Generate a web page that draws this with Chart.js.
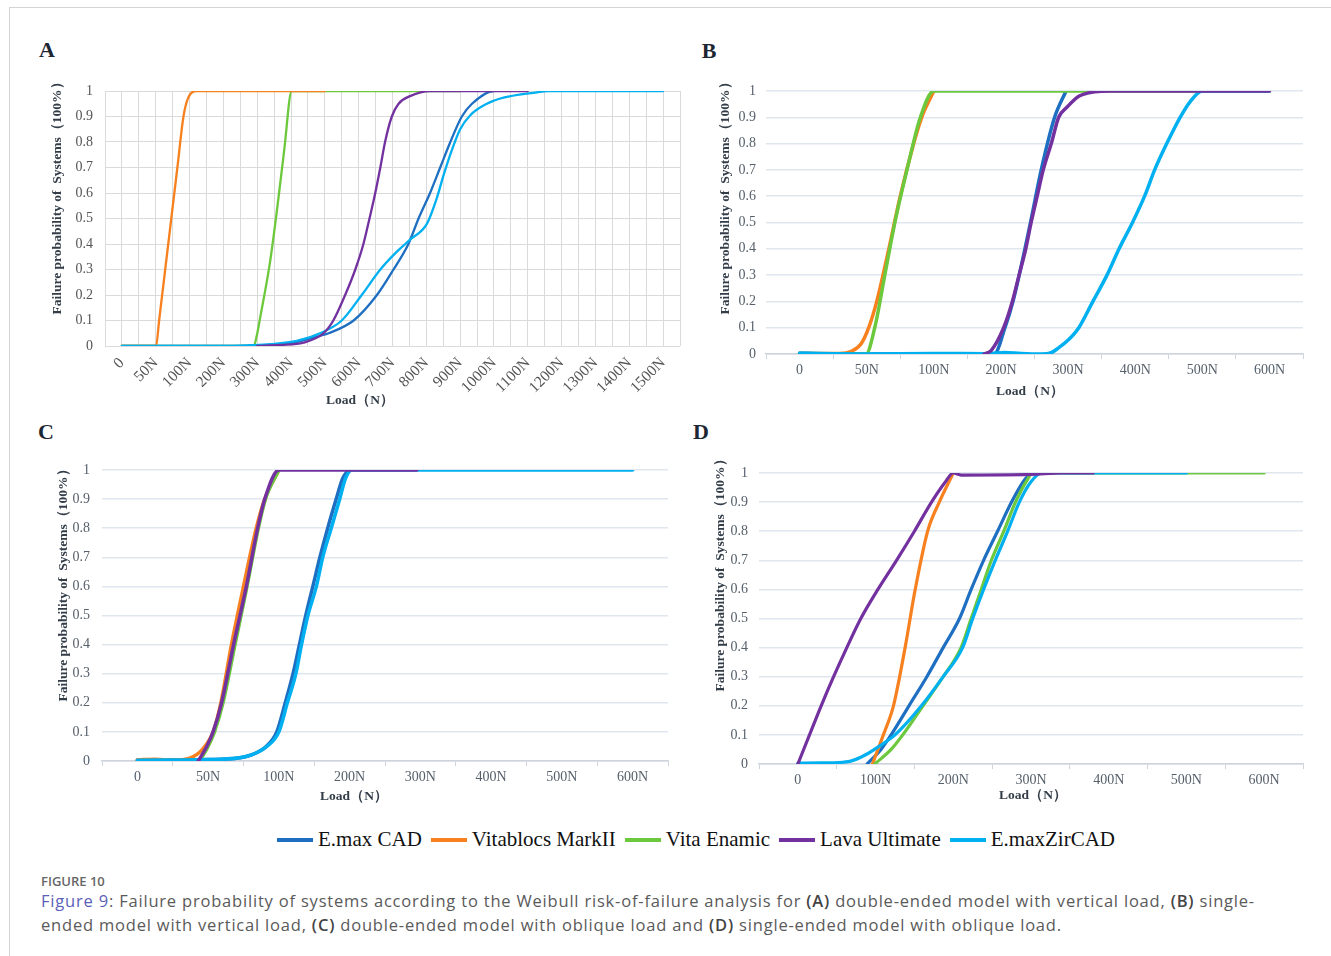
<!DOCTYPE html>
<html>
<head>
<meta charset="utf-8">
<script src="https://cdn.jsdelivr.net/npm/chart.js@4.4.0/dist/chart.umd.min.js"></script>
<style>
  body { margin: 0; background: #fff; width: 1331px; height: 956px; position: relative; overflow: hidden;
         font-family: "Liberation Serif", "Times New Roman", serif; }
  .frame { position: absolute; left: 9px; top: 7px; right: -2px; bottom: -2px;
           border-top: 1px solid #d4d4d4; border-left: 1px solid #d4d4d4; }
  canvas { position: absolute; }
  .letter { position: absolute; font-weight: bold; font-size: 22px; line-height: 1;
            transform: translate(-50%, -50%); color: #1d2733; }
  .xt, .yt { position: absolute; font-weight: bold; font-size: 13.5px; line-height: 1; white-space: nowrap; color: #333d48; }
  .xt { transform: translate(-50%, -50%); }
  .yt { transform: translate(-50%, -50%) rotate(-90deg); }
  .legend { position: absolute; left: 277px; top: 827px; display: flex; align-items: center;
            font-size: 21px; color: #111; white-space: nowrap; }
  .legend .sw { display: inline-block; width: 36px; height: 4px; margin-right: 5px; }
  .legend .it { margin-right: 9px; }
  .cap { position: absolute; left: 41px; font-family: "Open Sans", Lato, sans-serif; color: #5a5a5a; white-space: nowrap; }
  .fig { top: 872px; font-size: 13px; font-weight: 600; color: #666; }
  .txt { top: 889px; font-size: 16.5px; line-height: 24px; }
  .txt a { color: #5a5fb8; text-decoration: none; }
  .txt b { color: #444; font-weight: 600; }
</style>
</head>
<body>
<div class="frame"></div>

<div class="letter" style="left:47px;top:50px">A</div>
<div class="letter" style="left:709px;top:51px">B</div>
<div class="letter" style="left:46px;top:432px">C</div>
<div class="letter" style="left:701px;top:432px">D</div>

<canvas id="chartA" width="660" height="350" style="left:30px;top:70px"></canvas>
<canvas id="chartB" width="620" height="320" style="left:700px;top:70px"></canvas>
<canvas id="chartC" width="650" height="340" style="left:30px;top:450px"></canvas>
<canvas id="chartD" width="630" height="340" style="left:690px;top:450px"></canvas>

<div class="yt" style="left:57px;top:195px">Failure probability of &nbsp;Systems（100%）</div>
<div class="yt" style="left:725px;top:195px">Failure probability of &nbsp;Systems（100%）</div>
<div class="yt" style="left:63px;top:582px">Failure probability of &nbsp;Systems（100%）</div>
<div class="yt" style="left:720px;top:572px">Failure probability of &nbsp;Systems（100%）</div>

<div class="xt" style="left:360px;top:400px">Load（N）</div>
<div class="xt" style="left:1030px;top:391px">Load（N）</div>
<div class="xt" style="left:354px;top:796px">Load（N）</div>
<div class="xt" style="left:1033px;top:795px">Load（N）</div>

<div class="legend" id="legend"></div>

<div class="cap fig">FIGURE 10</div>
<div class="cap txt"><span id="line1"><a>Figure 9</a>: Failure probability of systems according to the Weibull risk-of-failure analysis for <b>(A)</b> double-ended model with vertical load, <b>(B)</b> single-</span><br><span id="line2">ended model with vertical load, <b>(C)</b> double-ended model with oblique load and <b>(D)</b> single-ended model with oblique load.</span></div>

<script>
// Series names and colours (same for all four panels)
const seriesNames = ['E.max CAD', 'Vitablocs MarkII', 'Vita Enamic', 'Lava Ultimate', 'E.maxZirCAD'];
const seriesColors = ['#1e6fc1', '#f7801f', '#6cc83c', '#7331a0', '#00b0f0'];

// Category labels of the load axis
const loadsA = ['0', '50N', '100N', '200N', '300N', '400N', '500N', '600N', '700N', '800N',
                '900N', '1000N', '1100N', '1200N', '1300N', '1400N', '1500N'];
const loadsB = ['0', '50N', '100N', '200N', '300N', '400N', '500N', '600N'];
const loadsC = ['0', '50N', '100N', '200N', '300N', '400N', '500N', '600N'];
const loadsD = ['0', '100N', '200N', '300N', '400N', '500N', '600N'];

// Curves: [category position, failure probability]
// A - double-ended model, vertical load
const aEmax = [[0,0],[3,0],[4,0.002],[4.97,0.01],[5.57,0.03],[6.11,0.05],[6.85,0.1],[7.54,0.2],[8.03,0.3],[8.47,0.4],[8.77,0.5],[9.11,0.6],[9.41,0.7],[9.71,0.8],[10.05,0.9],[10.35,0.95],[10.99,1],[11,1]];
const aVitablocs = [[0,0],[1.01,0],[1.1,0.1],[1.28,0.3],[1.46,0.5],[1.64,0.7],[1.82,0.9],[1.95,0.97],[2.18,1],[6,1]];
const aEnamic = [[0,0],[3.9,0],[3.97,0.03],[4.1,0.12],[4.38,0.33],[4.6,0.55],[4.8,0.77],[5.02,1],[10,1]];
const aLava = [[4,0],[4.7,0.004],[5.37,0.013],[5.96,0.05],[6.25,0.1],[6.6,0.2],[6.9,0.3],[7.14,0.4],[7.32,0.5],[7.49,0.6],[7.64,0.7],[7.78,0.8],[7.98,0.9],[8.18,0.95],[8.52,0.98],[9.11,1],[12,1]];
const aZircad = [[0,0],[3,0],[3.8,0.003],[4.38,0.007],[5.17,0.02],[5.86,0.05],[6.5,0.1],[7.09,0.2],[7.64,0.3],[8.13,0.37],[8.52,0.417],[9.02,0.48],[9.31,0.58],[9.51,0.67],[9.76,0.77],[10,0.85],[10.3,0.905],[10.79,0.95],[11.28,0.974],[12.27,0.995],[12.6,1],[16,1]];

// B - single-ended model, vertical load
const bEmax = [[0,0],[2.9,0],[3.06,0.1],[3.18,0.2],[3.44,0.5],[3.6,0.7],[3.8,0.9],[3.97,1]];
const bVitablocs = [[0,0.003],[0.3,0.002],[0.6,0.002],[0.77,0.01],[0.92,0.04],[1.03,0.1],[1.15,0.2],[1.33,0.4],[1.5,0.6],[1.7,0.8],[1.82,0.9],[2,1]];
const bEnamic = [[0,0],[0.99,0],[1.12,0.1],[1.27,0.3],[1.42,0.5],[1.6,0.7],[1.8,0.9],[2,1],[7,1]];
const bLava = [[2.75,0],[2.86,0.015],[3.04,0.1],[3.17,0.2],[3.27,0.3],[3.37,0.4],[3.45,0.5],[3.54,0.6],[3.63,0.7],[3.75,0.8],[3.86,0.9],[3.99,0.94],[4.16,0.98],[4.4,0.997],[4.64,1],[7,1]];
const bZircad = [[0,0.004],[0.2,0.003],[0.5,0.001],[1,0],[2,0.002],[2.8,0.001],[3.05,0.006],[3.3,0.002],[3.6,0],[3.75,0.005],[3.84,0.02],[3.99,0.05],[4.16,0.1],[4.37,0.2],[4.58,0.3],[4.76,0.4],[4.96,0.5],[5.14,0.6],[5.29,0.7],[5.47,0.8],[5.67,0.9],[5.82,0.96],[6,1],[7,1]];

// C - double-ended model, oblique load
const cEmax = [[0,0.003],[1,0.005],[1.42,0.01],[1.6,0.02],[1.82,0.05],[1.97,0.1],[2.09,0.2],[2.2,0.3],[2.29,0.4],[2.38,0.5],[2.48,0.6],[2.58,0.7],[2.69,0.8],[2.81,0.9],[2.9,0.97],[2.98,1]];
const cVitablocs = [[0,0.004],[0.25,0.006],[0.5,0.003],[0.74,0.01],[0.92,0.04],[1.07,0.1],[1.18,0.2],[1.33,0.4],[1.5,0.6],[1.68,0.8],[1.8,0.9],[2,1]];
const cEnamic = [[0.88,0],[1,0.05],[1.09,0.1],[1.21,0.2],[1.38,0.4],[1.55,0.6],[1.71,0.8],[1.81,0.9],[2,1]];
const cLava = [[0.86,0],[0.98,0.05],[1.07,0.1],[1.19,0.2],[1.36,0.4],[1.54,0.6],[1.7,0.8],[1.8,0.9],[2,1],[3.95,1]];
const cZircad = [[0,0.003],[1,0.005],[1.42,0.01],[1.6,0.02],[1.83,0.05],[2,0.1],[2.12,0.2],[2.24,0.3],[2.32,0.4],[2.41,0.5],[2.53,0.6],[2.62,0.7],[2.74,0.8],[2.86,0.9],[2.94,0.97],[3.03,1],[7,1]];

// D - single-ended model, oblique load
const dEmax = [[0.89,0],[1.07,0.05],[1.2,0.1],[1.43,0.2],[1.66,0.3],[1.87,0.4],[2.08,0.5],[2.23,0.6],[2.39,0.7],[2.57,0.8],[2.75,0.9],[2.9,0.97],[3,1]];
const dVitablocs = [[0.96,0],[1.1,0.1],[1.23,0.2],[1.38,0.4],[1.51,0.6],[1.67,0.8],[1.82,0.9],[2,1]];
const dEnamic = [[0.99,0],[1.2,0.05],[1.35,0.1],[1.61,0.2],[1.87,0.3],[2.1,0.4],[2.23,0.5],[2.36,0.6],[2.49,0.7],[2.65,0.8],[2.8,0.9],[2.96,0.98],[3.02,1],[6,1]];
const dLava = [[0,0],[0.15,0.1],[0.3,0.2],[0.46,0.3],[0.63,0.4],[0.81,0.5],[1.03,0.6],[1.27,0.7],[1.5,0.8],[1.72,0.9],[1.9,0.97],[2,1],[2.1,0.993],[3,0.995],[3.4,1],[3.8,1]];
const dZircad = [[0,0.003],[0.3,0.004],[0.53,0.005],[0.68,0.01],[0.86,0.03],[1.04,0.06],[1.25,0.1],[1.59,0.2],[1.87,0.3],[2.12,0.4],[2.25,0.5],[2.39,0.6],[2.54,0.7],[2.7,0.8],[2.85,0.9],[3,0.97],[3.14,1],[5,1]];

Chart.defaults.font.family = '"Liberation Serif", "Times New Roman", serif';
Chart.defaults.font.size = 14;

// drawing order: lower number ends up on top
const defaultOrder = [4, 3, 2, 0, 1];

function isWhole(v) {
  return Math.abs(v - Math.round(v)) < 1e-6;
}

function makePanel(id, labels, curves, look) {
  const datasets = curves.map((pts, i) => ({
    label: seriesNames[i],
    data: pts.map(p => ({ x: p[0], y: p[1] })),
    borderColor: seriesColors[i],
    backgroundColor: seriesColors[i],
    borderWidth: look.lineWidth,
    order: (look.order || defaultOrder)[i],
    fill: false
  }));

  const xScale = {
    type: 'linear',
    min: -0.5,
    max: labels.length - 0.5,
    afterFit: s => {
      s.height = look.xHeight;
      // keep the plot width fixed, rotated labels shouldn't push it in
      s.paddingLeft = 0;
      s.paddingRight = 0;
    },
    ticks: {
      stepSize: 0.5,
      autoSkip: false,
      color: look.tickColor,
      padding: look.xPad,
      font: { size: look.xFont || 14 },
      minRotation: look.rotate,
      maxRotation: look.rotate,
      callback: v => isWhole(v) ? labels[Math.round(v)] : ''
    }
  };
  if (look.fullGrid) {
    xScale.grid = { color: look.gridColor, lineWidth: 1, drawTicks: false };
    xScale.border = { display: false };
  } else {
    xScale.grid = {
      drawOnChartArea: false,
      drawTicks: true,
      tickLength: 5,
      color: c => (c.tick && !isWhole(c.tick.value)) ? '#cdd4dc' : 'rgba(0,0,0,0)'
    };
    xScale.border = { display: true, color: '#cdd4dc', width: 1.5 };
  }

  new Chart(document.getElementById(id), {
    type: 'line',
    data: { datasets },
    options: {
      responsive: false,
      animation: false,
      events: [],
      layout: { padding: { top: look.top, right: look.right, left: 0, bottom: 0 } },
      plugins: { legend: { display: false }, tooltip: { enabled: false } },
      elements: {
        point: { radius: 0 },
        line: { cubicInterpolationMode: 'monotone', borderCapStyle: 'round', borderJoinStyle: 'round' }
      },
      scales: {
        x: xScale,
        y: {
          min: 0,
          max: 1,
          afterFit: s => { s.width = look.yWidth; s.paddingTop = 0; s.paddingBottom = 0; },
          ticks: { stepSize: 0.1, color: look.tickColor, padding: look.yPad,
                   callback: v => String(+v.toFixed(1)) },
          grid: { color: look.gridColor, lineWidth: look.fullGrid ? 1 : 1.5, drawTicks: false },
          border: { display: false }
        }
      }
    }
  });
}

makePanel('chartA', loadsA, [aEmax, aVitablocs, aEnamic, aLava, aZircad], {
  lineWidth: 2.3, top: 21, right: 10, yWidth: 75, xHeight: 74, yPad: 12, xPad: 8, xFont: 15.5, rotate: 45,
  fullGrid: true, gridColor: '#dadada', tickColor: '#555', order: [4, 2, 3, 0, 1]
});
makePanel('chartB', loadsB, [bEmax, bVitablocs, bEnamic, bLava, bZircad], {
  lineWidth: 3.5, top: 21, right: 17, yWidth: 66, xHeight: 36, yPad: 10, xPad: 3, rotate: 0,
  fullGrid: false, gridColor: '#e0e6ed', tickColor: '#56606b'
});
makePanel('chartC', loadsC, [cEmax, cVitablocs, cEnamic, cLava, cZircad], {
  lineWidth: 3.5, top: 20, right: 12, yWidth: 72, xHeight: 29, yPad: 12, xPad: 3, rotate: 0,
  fullGrid: false, gridColor: '#e0e6ed', tickColor: '#56606b'
});
makePanel('chartD', loadsD, [dEmax, dVitablocs, dEnamic, dLava, dZircad], {
  lineWidth: 3.2, top: 23, right: 17, yWidth: 69, xHeight: 26, yPad: 11, xPad: 3, rotate: 0,
  fullGrid: false, gridColor: '#e0e6ed', tickColor: '#56606b'
});

// shared legend
const legend = document.getElementById('legend');
seriesNames.forEach((name, i) => {
  const sw = document.createElement('span');
  sw.className = 'sw';
  sw.style.background = seriesColors[i];
  const t = document.createElement('span');
  t.className = 'it';
  t.textContent = name;
  legend.appendChild(sw);
  legend.appendChild(t);
});

// stretch the caption lines to the width they have in the figure
const line1 = document.getElementById('line1');
const line2 = document.getElementById('line2');
const w1 = line1.getBoundingClientRect().width;
const spacing = (1214 - w1) / line1.textContent.length;
line1.style.letterSpacing = spacing + 'px';
line2.style.letterSpacing = spacing + 'px';
</script>
</body>
</html>
